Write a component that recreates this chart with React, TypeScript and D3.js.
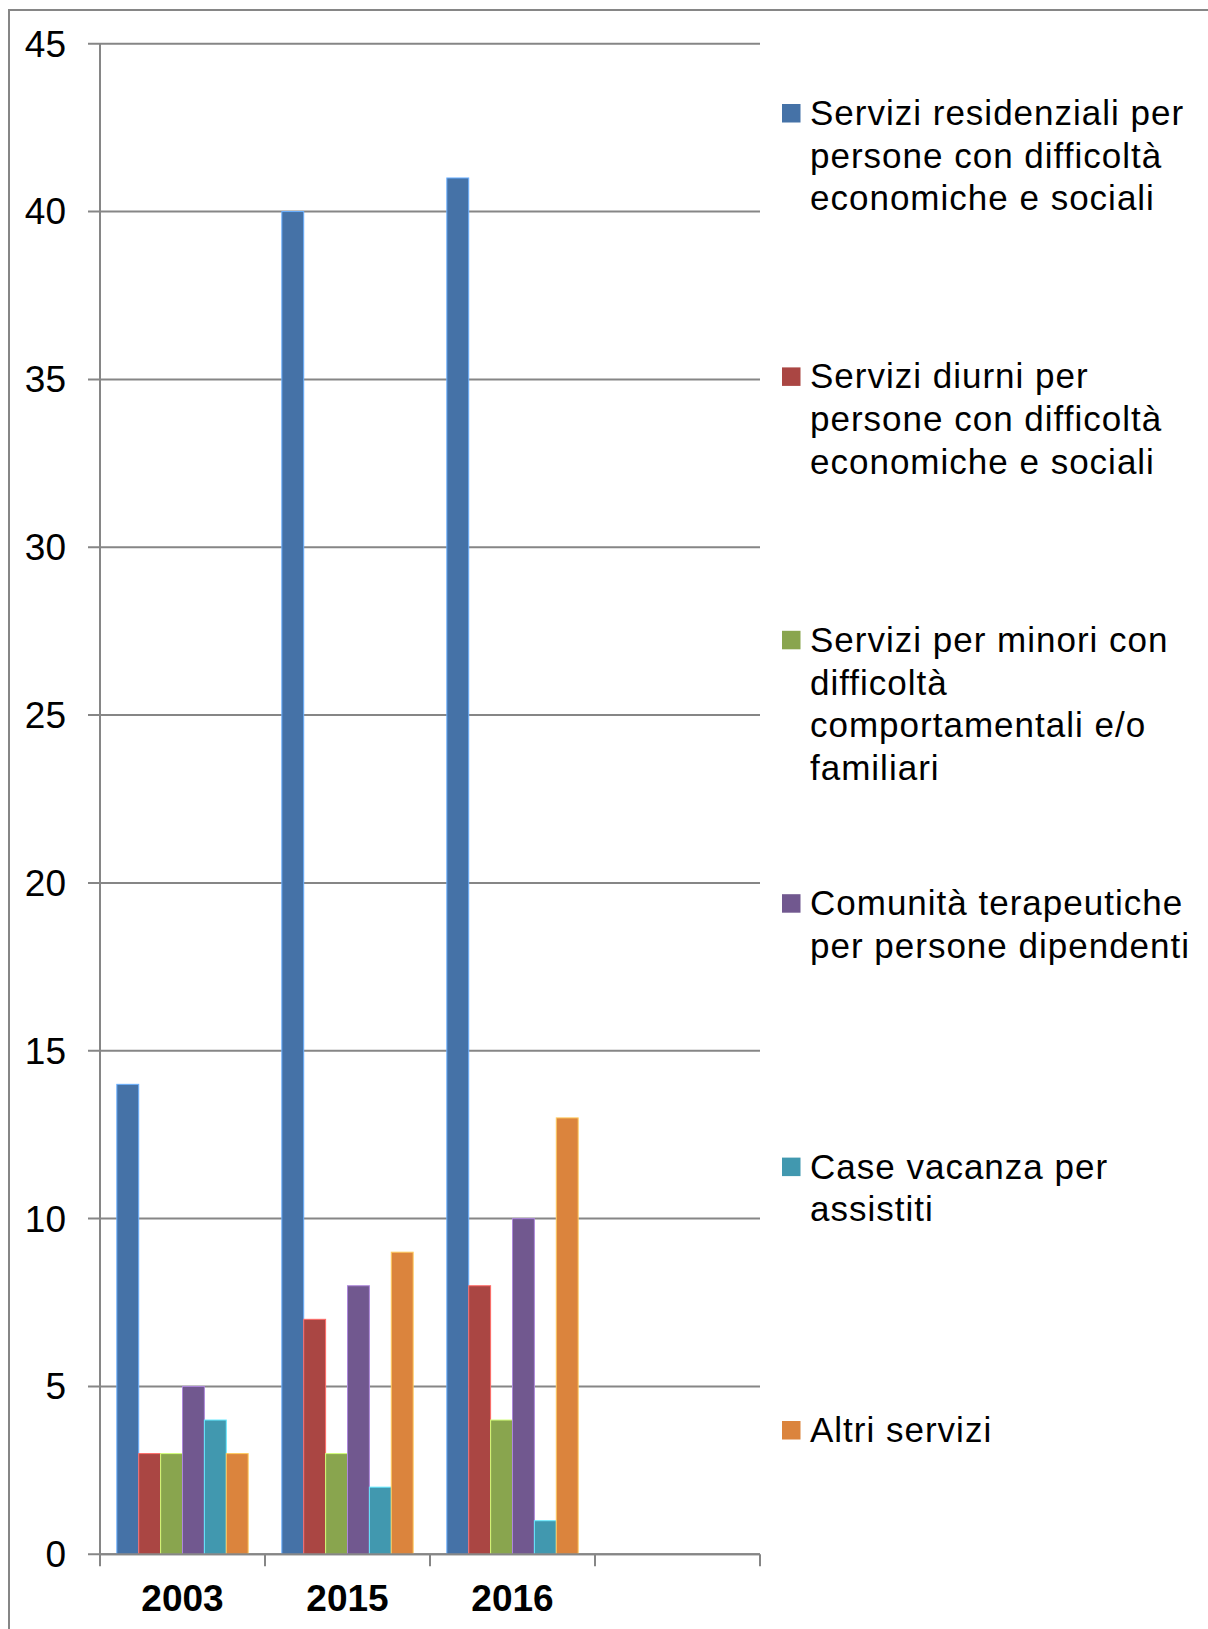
import React from "react";
import * as d3 from "d3";

const categories = ["2003", "2015", "2016", ""];
const seriesNames = [
  "Servizi residenziali per persone con difficoltà economiche e sociali",
  "Servizi diurni per persone con difficoltà economiche e sociali",
  "Servizi per minori con difficoltà comportamentali e/o familiari",
  "Comunità terapeutiche per persone dipendenti",
  "Case vacanza per assistiti",
  "Altri servizi",
];
const legendLines = [
  ["Servizi residenziali per", "persone con difficoltà", "economiche e sociali"],
  ["Servizi diurni per", "persone con difficoltà", "economiche e sociali"],
  ["Servizi per minori con", "difficoltà", "comportamentali e/o", "familiari"],
  ["Comunità terapeutiche", "per persone dipendenti"],
  ["Case vacanza per", "assistiti"],
  ["Altri servizi"],
];
const values2003 = [14, 3, 3, 5, 4, 3];
const values2015 = [40, 7, 3, 8, 2, 9];
const values2016 = [41, 8, 4, 10, 1, 13];
const yTicks = [0, 5, 10, 15, 20, 25, 30, 35, 40, 45];
const colors = ["#4572A7", "#AA4643", "#89A54E", "#71588F", "#4198AF", "#DB843D"];

const dataByYear = [
  { year: "2003", values: values2003 },
  { year: "2015", values: values2015 },
  { year: "2016", values: values2016 },
];

const W = 1208;
const H = 1629;
const FONT = "'Liberation Sans', Arial, sans-serif";
const GRID = "#868686";

export default function App() {
  const y = d3.scaleLinear().domain([0, 45]).range([1554.3, 43.7]);
  const x = d3.scaleBand<string>().domain(categories).range([100, 760]).paddingInner(0).paddingOuter(0);
  const bw = x.bandwidth();
  const inner = d3
    .scaleBand<number>()
    .domain(d3.range(seriesNames.length))
    .range([bw * 0.102, bw * 0.898]);
  const legendY = d3.scaleLinear().domain([0, seriesNames.length - 1]).range([125, 1442]);
  const lineH = 42.7;
  const tickEdges = [...categories.map((c) => x(c)!), 760];

  return (
    <svg
      width={W}
      height={H}
      style={{ position: "absolute", left: 0, top: 0, background: "#fff" }}
      fontFamily={FONT}
    >
      <rect x={0} y={0} width={W} height={H} fill="#fff" />
      <rect x={9} y={10} width={W + 50} height={H + 50} fill="none" stroke={GRID} strokeWidth={2} />
      {/* gridlines */}
      {yTicks.map((t) => (
        <line key={"g" + t} x1={88} x2={760} y1={y(t)} y2={y(t)} stroke={GRID} strokeWidth={2} />
      ))}
      {/* y axis line */}
      <line x1={100} x2={100} y1={y(45)} y2={y(0)} stroke={GRID} strokeWidth={2} />
      {/* x tick marks */}
      {tickEdges.map((tx, i) => (
        <line key={"xt" + i} x1={tx} x2={tx} y1={y(0)} y2={y(0) + 12} stroke={GRID} strokeWidth={2} />
      ))}
      {/* y labels */}
      {yTicks.map((t) => (
        <text key={"yl" + t} x={66} y={y(t)} dy="0.35em" textAnchor="end" fontSize={37} fill="#000">
          {t}
        </text>
      ))}
      {/* bars */}
      {dataByYear.map((d) => (
        <g key={d.year} transform={`translate(${x(d.year)},0)`}>
          {d.values.map((v, i) => (
            <rect
              key={i}
              x={inner(i)!}
              y={y(v)}
              width={inner.bandwidth()}
              height={y(0) - y(v)}
              fill={colors[i]}
              stroke={d3.color(colors[i])!.brighter(1.2).formatHex()}
              strokeWidth={1}
            />
          ))}
        </g>
      ))}
      {/* x axis line on top */}
      <line x1={100} x2={760} y1={y(0)} y2={y(0)} stroke={GRID} strokeWidth={2} />
      {/* x labels */}
      {categories
        .filter((c) => c !== "")
        .map((c) => (
          <text
            key={"xl" + c}
            x={x(c)! + bw / 2}
            y={1611}
            textAnchor="middle"
            fontSize={37}
            fontWeight="bold"
            fill="#000"
          >
            {c}
          </text>
        ))}
      {/* legend */}
      {legendLines.map((lines, i) => (
        <g key={"lg" + i}>
          <rect x={782} y={legendY(i) - 21} width={18.5} height={18.5} fill={colors[i]} />
          <text x={810} y={legendY(i)} fontSize={35} letterSpacing={1} fill="#000">
            {lines.map((ln, j) => (
              <tspan key={j} x={810} y={legendY(i) + j * lineH}>
                {ln}
              </tspan>
            ))}
          </text>
        </g>
      ))}
    </svg>
  );
}
